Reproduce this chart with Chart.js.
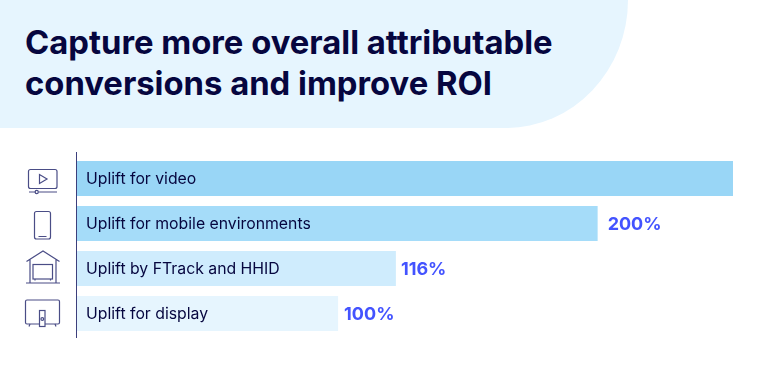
<!DOCTYPE html>
<html>
<head>
<meta charset="utf-8">
<script src="https://cdn.jsdelivr.net/npm/chart.js@4"></script>
<style>
  html, body { margin: 0; padding: 0; background: #fff; }
  #page { position: relative; width: 768px; height: 375px; overflow: hidden; }
  #head { position: absolute; left: 0; top: 0; width: 628px; height: 128px; background: #e6f5fe; border-bottom-right-radius: 122px 128px; }
  #head h1 { position: absolute; left: 25px; top: 22px; margin: 0; font: 700 32.8px/41px Inter, sans-serif; color: #06063f; white-space: nowrap; }
  #wrap { position: absolute; left: 0; top: 0; width: 768px; height: 375px; }
  .icon { position: absolute; fill: none; stroke: #4a4d86; stroke-width: 1.2; }
</style>
</head>
<body>
<div id="page">
  <div id="head"><h1>Capture more overall attributable<br>conversions and improve ROI</h1></div>
  <div id="wrap"><canvas id="chart"></canvas></div>

  <svg class="icon" style="left:0;top:140px" width="76" height="210" viewBox="0 0 76 210">
    <!-- video -->
    <rect x="28.5" y="29.5" width="28.5" height="19" rx="2"/>
    <path d="M39.5 34.5v9l7.5-4.5z"/>
    <path d="M29 52h7M38.5 52h18.5"/><circle cx="36.7" cy="52" r="1.6"/>
    <!-- phone -->
    <rect x="34.5" y="71.5" width="16" height="27.5" rx="2"/>
    <path d="M38.5 71.5h8M38.5 96.5h8"/>
    <!-- house -->
    <path d="M26.5 121.5L43 111l16.5 10.5M30 119.5v23.5M56 119.5v23.5M26 143h34"/>
    <rect x="33" y="124.5" width="19.5" height="14.5"/>
    <path d="M35 139v1.5M50.5 139v1.5"/>
    <!-- display -->
    <rect x="25.5" y="160" width="34" height="24" rx="1.5"/>
    <rect x="39.5" y="170.5" width="5.5" height="16" fill="#fff"/>
    <circle cx="42.3" cy="179" r="1.4"/>
    <path d="M30 184l-1 2.5M55 184l1 2.5"/>
  </svg>
</div>

<script>
const categories = ['Uplift for video', 'Uplift for mobile environments', 'Uplift by FTrack and HHID', 'Uplift for display'];
const barLengths = [252, 200, 122.5, 100.3];
const valueLabels = ['', '200%', '116%', '100%'];
const labelGaps = [0, 10, 5, 6];
const barColors = ['#99d6f6', '#a5dcf9', '#cfecfd', '#e6f5fe'];

const barText = {
    id: 'barText',
    afterDatasetsDraw(chart) {
        const {ctx} = chart;
        const bars = chart.getDatasetMeta(0).data;
        ctx.save();
        ctx.textBaseline = 'middle';
        bars.forEach((bar, i) => {
            ctx.textAlign = 'left';
            ctx.fillStyle = '#06063f';
            ctx.font = '400 15.8px Inter, sans-serif';
            ctx.fillText(categories[i], chart.chartArea.left + 9, bar.y + 1);
            ctx.fillStyle = '#4353ff';
            ctx.font = '700 18px Inter, sans-serif';
            ctx.fillText(valueLabels[i], bar.x + labelGaps[i], bar.y + 1);
        });
        // axis line runs a bit past the bars
        ctx.strokeStyle = '#3c3f7c';
        ctx.lineWidth = 1;
        ctx.beginPath();
        ctx.moveTo(chart.chartArea.left - 0.5, 152);
        ctx.lineTo(chart.chartArea.left - 0.5, 338);
        ctx.stroke();
        ctx.restore();
    }
};

new Chart(document.getElementById('chart'), {
    type: 'bar',
    data: {
        labels: categories,
        datasets: [{
            data: barLengths,
            backgroundColor: barColors,
            barPercentage: 35 / 45,
            categoryPercentage: 1
        }]
    },
    options: {
        indexAxis: 'y',
        responsive: true,
        maintainAspectRatio: false,
        animation: false,
        layout: {padding: {left: 77, right: 35, top: 156, bottom: 39}},
        plugins: {legend: {display: false}, tooltip: {enabled: false}},
        scales: {
            x: {display: false, min: 0, max: 252},
            y: {display: false}
        }
    },
    plugins: [barText]
});
</script>
</body>
</html>
